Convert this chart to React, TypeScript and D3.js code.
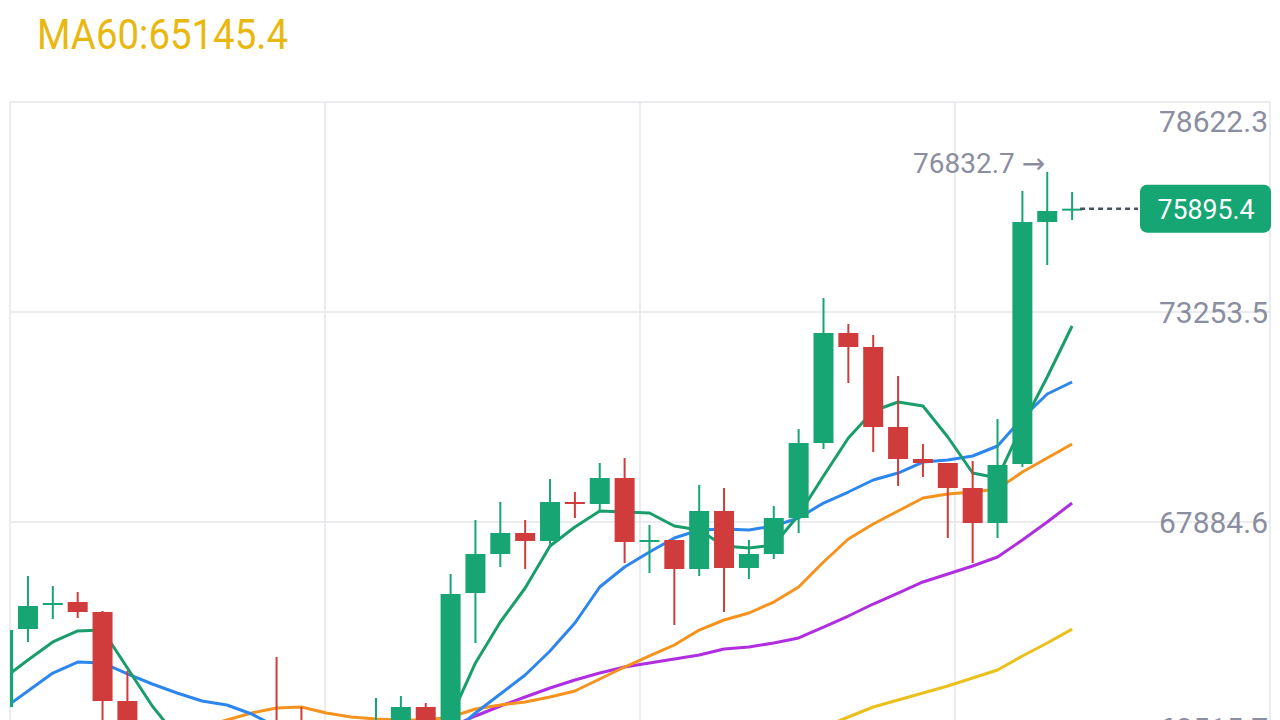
import React from 'react';
import * as d3 from 'd3';

// OHLC per candle (oldest -> newest)
const opens = [63155, 65149, 65788, 65839, 65584, 63308, 60317, 60880, 61800, 61544, 61953, 62771, 62362, 61800, 61544, 60036, 62362, 63155, 62720, 66069, 67066, 67603, 67399, 68396, 68345, 69009, 67373, 67424, 66683, 68166, 66709, 67066, 67987, 69904, 72717, 72359, 70313, 69495, 69393, 68754, 67859, 69367, 75554, 75861];
const highs = [65328, 66504, 66248, 66095, 65609, 64075, 61161, 62055, 62107, 62311, 62771, 64433, 63155, 62183, 61800, 63385, 63436, 63257, 66555, 67936, 68396, 67936, 68984, 68651, 69393, 69521, 67809, 67424, 68830, 68754, 67424, 68294, 70262, 73611, 72947, 72665, 71617, 69879, 69393, 69444, 70518, 76347, 76832.7, 76321];
const lows = [63027, 64817, 65405, 65430, 62439, 60010, 60061, 60649, 61033, 61161, 61672, 62055, 61416, 61033, 59499, 59755, 62183, 62439, 62439, 64791, 66734, 66683, 67245, 67987, 68140, 66836, 66581, 65251, 66504, 65584, 66427, 66939, 67603, 69751, 71438, 69674, 68805, 69035, 67475, 66836, 67475, 69291, 74455, 75606];
const closes = [65123, 65737, 65814, 65584, 63308, 60317, 60880, 61800, 61544, 61953, 62771, 62362, 61800, 61544, 60036, 62362, 63155, 62720, 66044, 67066, 67603, 67399, 68396, 68345, 69009, 67373, 67424, 66683, 68166, 66709, 67066, 67987, 69904, 72717, 72359, 70313, 69495, 69393, 68754, 67859, 69342, 75554, 75836, 75895.4];

// moving averages
const ma5 = [63871, 64356, 64817, 65098, 65123, 64152, 63180, 62388, 61570, 61289, 61800, 62081, 62081, 62081, 61698, 61621, 61774, 61953, 62874, 64280, 65328, 66197, 67271, 67757, 68166, 68140, 68115, 67782, 67680, 67271, 67220, 67297, 68063, 69061, 70032, 70722, 70952, 70850, 70058, 69137, 69009, 70364, 71592, 72895];
const ma10 = [63104, 63564, 64024, 64305, 64280, 63999, 63743, 63513, 63308, 63206, 62976, 62644, 62234, 61825, 61493, 61698, 61928, 62030, 62465, 63001, 63487, 63973, 64587, 65302, 66223, 66734, 67118, 67475, 67680, 67706, 67680, 67782, 67987, 68370, 68651, 68958, 69137, 69418, 69470, 69572, 69828, 70543, 71157, 71464];
const ma20 = [61800, 61928, 62055, 62183, 62286, 62362, 62439, 62516, 62644, 62822, 63001, 63129, 63155, 63001, 62899, 62848, 62822, 62822, 62899, 63104, 63206, 63283, 63410, 63564, 63871, 64177, 64459, 64740, 65123, 65379, 65558, 65839, 66223, 66862, 67450, 67833, 68166, 68498, 68600, 68651, 68728, 69163, 69521, 69879];
const ma30 = [62362, 62388, 62388, 62362, 62311, 62209, 62107, 62004, 61928, 61876, 61851, 61851, 61876, 61928, 62004, 62107, 62260, 62439, 62644, 62925, 63180, 63410, 63641, 63845, 64024, 64177, 64280, 64382, 64484, 64638, 64689, 64791, 64919, 65200, 65481, 65788, 66069, 66351, 66555, 66760, 66990, 67424, 67885, 68370];
const ma60 = [60777, 60803, 60854, 60880, 60905, 60905, 60905, 60905, 60931, 60956, 60982, 61033, 61084, 61135, 61186, 61237, 61289, 61340, 61391, 61467, 61544, 61595, 61646, 61723, 61800, 61876, 61928, 61979, 62055, 62132, 62209, 62311, 62439, 62644, 62899, 63155, 63334, 63513, 63692, 63896, 64101, 64459, 64791, 65145.4];

const yTicks = [78622.3, 73253.5, 67884.6, 62515.7];
const yTickLabels = ['78622.3', '73253.5', '67884.6', '62515.7'];
const titleText = 'MA60:65145.4';
const lastPriceLabel = '75895.4';
const maxPriceLabel = '76832.7 →';

const GREEN = '#17a673';
const RED = '#d03b3b';
const GRID = '#e4e5eb';
const AXIS_TEXT = '#8b8e9f';
const FONT = "Roboto, 'Noto Sans', 'DejaVu Sans', sans-serif";

const maSeries = [
  { data: ma60, color: '#ecc01b' },
  { data: ma30, color: '#b12ee0' },
  { data: ma20, color: '#f6921e' },
  { data: ma10, color: '#2d86ee' },
  { data: ma5, color: '#199e6b' },
];

export default function App() {
  const W = 1280;
  const H = 720;
  const plotLeft = 10;
  const plotRight = 1270;
  const plotTop = 102;
  const n = closes.length;

  const x = d3.scaleLinear().domain([0, n - 1]).range([3.1, 1072.1]);
  const y = d3.scaleLinear().domain([62515.7, 78622.3]).range([732, 102]);
  const candleW = 20;

  const line = d3
    .line<number>()
    .x((_, i) => x(i))
    .y((d) => y(d));

  const vGrid = d3.range(5).map((k) => plotLeft + (k * (plotRight - plotLeft)) / 4);

  const lastIdx = n - 1;
  const maxIdx = highs.indexOf(d3.max(highs) as number);
  const lastY = y(closes[lastIdx]);

  return (
    <div style={{ position: 'fixed', left: 0, top: 0, width: W, height: H, background: '#fff' }}>
      <svg width={W} height={H} style={{ display: 'block' }}>
        <defs>
          <clipPath id="plot">
            <rect x={plotLeft} y={plotTop} width={plotRight - plotLeft} height={H - plotTop + 100} />
          </clipPath>
        </defs>
        <rect x={0} y={0} width={W} height={H} fill="#fff" />

        {/* title */}
        <text
          x={37}
          y={49}
          fill="#e9b80f"
          fontFamily={FONT}
          fontSize={42}
          textLength={251}
          lengthAdjust="spacingAndGlyphs"
        >
          {titleText}
        </text>

        {/* grid */}
        {yTicks.map((t) => (
          <line key={'h' + t} x1={plotLeft} x2={plotRight} y1={y(t)} y2={y(t)} stroke={GRID} strokeWidth={1.5} />
        ))}
        {vGrid.map((gx) => (
          <line key={'v' + gx} x1={gx} x2={gx} y1={plotTop} y2={H + 50} stroke={GRID} strokeWidth={1.5} />
        ))}

        <g clipPath="url(#plot)">
          {/* moving averages */}
          {maSeries.map((s, k) => (
            <path
              key={'ma' + k}
              d={line(s.data) || ''}
              fill="none"
              stroke={s.color}
              strokeWidth={3}
              strokeLinejoin="round"
            />
          ))}

          {/* candles */}
          {closes.map((c, i) => {
            const o = opens[i];
            const up = c >= o;
            const color = up ? GREEN : RED;
            const cx = x(i);
            const top = y(Math.max(o, c));
            const bh = Math.max(2, Math.abs(y(o) - y(c)));
            return (
              <g key={'c' + i}>
                <line x1={cx} x2={cx} y1={y(highs[i])} y2={y(lows[i])} stroke={color} strokeWidth={2} />
                <rect x={cx - candleW / 2} y={top} width={candleW} height={bh} fill={color} />
              </g>
            );
          })}
        </g>

        {/* max marker */}
        <text
          x={x(maxIdx) - 2}
          y={y(highs[maxIdx]) + 1}
          textAnchor="end"
          fill={AXIS_TEXT}
          fontFamily={FONT}
          fontSize={28}
        >
          {maxPriceLabel}
        </text>

        {/* last price line */}
        <line
          x1={x(lastIdx) + 8}
          x2={1138}
          y1={lastY}
          y2={lastY}
          stroke="#4a5064"
          strokeWidth={2.5}
          strokeDasharray="5,4"
        />

        {/* y-axis labels */}
        {yTicks.map((t, k) => {
          const by = Math.min(Math.max(y(t) + 11.5, plotTop + 30), 739);
          return (
            <text
              key={'yl' + t}
              x={1268}
              y={by}
              textAnchor="end"
              fill={AXIS_TEXT}
              fontFamily={FONT}
              fontSize={30}
            >
              {yTickLabels[k]}
            </text>
          );
        })}

        {/* last price box */}
        <rect x={1140} y={lastY - 24} width={131} height={48} rx={7} fill="#15a673" />
        <text
          x={1206}
          y={lastY + 10}
          textAnchor="middle"
          fill="#fff"
          fontFamily={FONT}
          fontSize={28}
          textLength={97}
          lengthAdjust="spacingAndGlyphs"
        >
          {lastPriceLabel}
        </text>
      </svg>
    </div>
  );
}
